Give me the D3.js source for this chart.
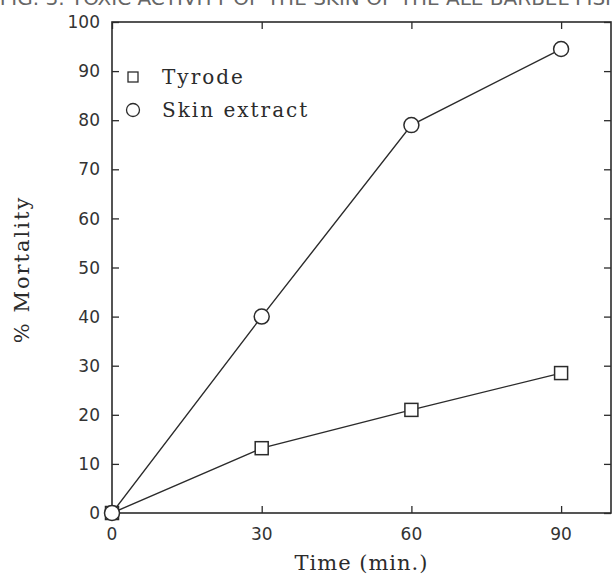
<!DOCTYPE html>
<html>
<head>
<meta charset="utf-8">
<script src="https://cdn.jsdelivr.net/npm/d3@7"></script>
<style>
  body { margin: 0; background: #fff; }
  svg { display: block; }
</style>
</head>
<body>
<div id="chart"></div>
<script>
// data
const times = [0, 30, 60, 90];
const tyrode = [0, 13.2, 21, 28.5];
const skinExtract = [0, 40, 79, 94.5];
const xTicks = [0, 30, 60, 90];
const yTicks = [0, 10, 20, 30, 40, 50, 60, 70, 80, 90, 100];
const seriesNames = ["Tyrode", "Skin extract"];

const width = 612, height = 577;
const margin = { left: 112, right: 1, top: 22, bottom: 64 };
const ink = "#2b2b2b";

const svg = d3.select("#chart").append("svg")
    .attr("width", width)
    .attr("height", height);

const x = d3.scaleLinear().domain([0, 100]).range([margin.left, width - margin.right]);
const y = d3.scaleLinear().domain([0, 100]).range([height - margin.bottom, margin.top]);

// caption of the scan, cut by the top edge like in the original
svg.append("text")
    .attr("x", 310)
    .attr("y", 5)
    .attr("text-anchor", "middle")
    .attr("font-family", "DejaVu Sans, sans-serif")
    .attr("font-size", 20)
    .attr("fill", "#666")
    .text("FIG. 3. TOXIC ACTIVITY OF THE SKIN OF THE ALE BARBEL FISH");

// frame
svg.append("rect")
    .attr("x", x(0))
    .attr("y", y(100))
    .attr("width", x(100) - x(0))
    .attr("height", y(0) - y(100))
    .attr("fill", "none")
    .attr("stroke", ink)
    .attr("stroke-width", 1.6);

const tickLen = 7;
const axisFont = "DejaVu Sans, sans-serif";
const labelFont = "DejaVu Serif, serif";

// ticks point inward on all four sides
const yLeft = svg.append("g")
    .attr("transform", `translate(${x(0)},0)`)
    .call(d3.axisRight(y).tickValues(yTicks).tickSize(tickLen).tickFormat(""));
const yRight = svg.append("g")
    .attr("transform", `translate(${x(100)},0)`)
    .call(d3.axisLeft(y).tickValues(yTicks).tickSize(tickLen).tickFormat(""));
const xBottom = svg.append("g")
    .attr("transform", `translate(0,${y(0)})`)
    .call(d3.axisTop(x).tickValues(xTicks).tickSize(tickLen).tickFormat(""));
const xTop = svg.append("g")
    .attr("transform", `translate(0,${y(100)})`)
    .call(d3.axisBottom(x).tickValues(xTicks).tickSize(tickLen).tickFormat(""));

[yLeft, yRight, xBottom, xTop].forEach(g => {
    g.select(".domain").remove();
    g.selectAll("line").attr("stroke", ink).attr("stroke-width", 1.3);
});

// tick labels
svg.append("g").selectAll("text")
    .data(yTicks)
    .enter().append("text")
    .attr("x", x(0) - 12)
    .attr("y", d => y(d))
    .attr("dy", "0.36em")
    .attr("text-anchor", "end")
    .attr("font-family", axisFont)
    .attr("font-size", 17)
    .attr("fill", "#333")
    .text(d => d);

svg.append("g").selectAll("text")
    .data(xTicks)
    .enter().append("text")
    .attr("x", d => x(d))
    .attr("y", y(0) + 27)
    .attr("text-anchor", "middle")
    .attr("font-family", axisFont)
    .attr("font-size", 17)
    .attr("fill", "#333")
    .text(d => d);

// axis titles
svg.append("text")
    .attr("x", (x(0) + x(100)) / 2)
    .attr("y", 570)
    .attr("text-anchor", "middle")
    .attr("font-family", labelFont)
    .attr("font-size", 21)
    .attr("letter-spacing", 1)
    .attr("fill", ink)
    .text("Time (min.)");

svg.append("text")
    .attr("transform", `translate(29,${(y(0) + y(100)) / 2 + 2}) rotate(-90)`)
    .attr("text-anchor", "middle")
    .attr("font-family", labelFont)
    .attr("font-size", 21)
    .attr("letter-spacing", 2)
    .attr("fill", ink)
    .text("% Mortality");

// lines and markers
const line = d3.line()
    .x(d => x(d[0]))
    .y(d => y(d[1]));

const tyrodePts = times.map((t, i) => [t, tyrode[i]]);
const skinPts = times.map((t, i) => [t, skinExtract[i]]);

[tyrodePts, skinPts].forEach(pts => {
    svg.append("path")
        .datum(pts)
        .attr("d", line)
        .attr("fill", "none")
        .attr("stroke", ink)
        .attr("stroke-width", 1.4);
});

const sq = 13;
svg.selectAll("rect.tyrode")
    .data(tyrodePts)
    .enter().append("rect")
    .attr("class", "tyrode")
    .attr("x", d => x(d[0]) - sq / 2)
    .attr("y", d => y(d[1]) - sq / 2)
    .attr("width", sq)
    .attr("height", sq)
    .attr("fill", "#fff")
    .attr("stroke", ink)
    .attr("stroke-width", 1.5);

svg.selectAll("circle.skin")
    .data(skinPts)
    .enter().append("circle")
    .attr("class", "skin")
    .attr("cx", d => x(d[0]))
    .attr("cy", d => y(d[1]))
    .attr("r", 7.5)
    .attr("fill", "#fff")
    .attr("stroke", ink)
    .attr("stroke-width", 1.5);

// legend
const legendX = 133;
const legend = svg.append("g");
legend.append("rect")
    .attr("x", legendX - 5)
    .attr("y", 77 - 5)
    .attr("width", 10)
    .attr("height", 10)
    .attr("fill", "#fff")
    .attr("stroke", ink)
    .attr("stroke-width", 1.3);
legend.append("circle")
    .attr("cx", legendX)
    .attr("cy", 110)
    .attr("r", 6.5)
    .attr("fill", "#fff")
    .attr("stroke", ink)
    .attr("stroke-width", 1.3);
legend.selectAll("text")
    .data(seriesNames)
    .enter().append("text")
    .attr("x", 162)
    .attr("y", (d, i) => 77 + i * 33)
    .attr("dy", "0.35em")
    .attr("font-family", labelFont)
    .attr("font-size", 20)
    .attr("letter-spacing", 2)
    .attr("fill", ink)
    .text(d => d);
</script>
</body>
</html>
